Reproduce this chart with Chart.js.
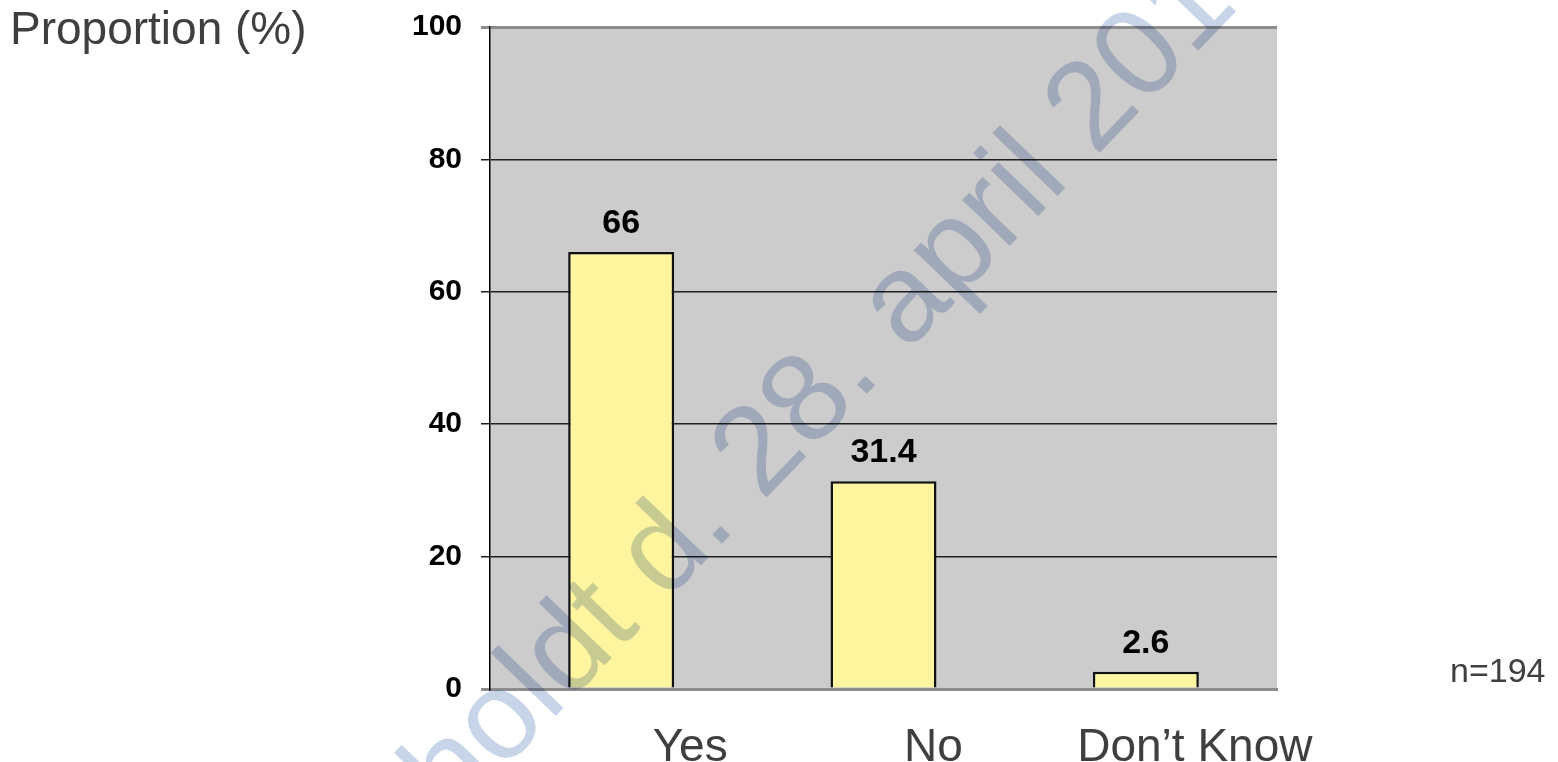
<!DOCTYPE html>
<html>
<head>
<meta charset="utf-8">
<title>Proportion (%)</title>
<script src="https://cdn.jsdelivr.net/npm/chart.js@4.4.1/dist/chart.umd.min.js"></script>
<style>
  html, body { margin: 0; padding: 0; background: #fff; }
  #wrap { position: relative; width: 1558px; height: 762px; }
</style>
</head>
<body>
<div id="wrap"><canvas id="myChart"></canvas></div>
<script>
// answers and their share of respondents
const categories = ['Yes', 'No', 'Don\u2019t Know'];
const proportions = [66, 31.4, 2.6];
const yTickValues = [0, 20, 40, 60, 80, 100];
const axisTitle = 'Proportion (%)';
const sampleNote = 'n=194';
const stampText = 'holdt d. 28. april 2010';

const FONT = '"Liberation Sans", Arial, Helvetica, sans-serif';
const TEXT_GREY = '#3f3f3f';
// the category captions sit a little right of their bars
const captionNudge = [69, 50, 49];

const plotBackground = {
	id: 'plotBackground',
	beforeDraw(chart) {
		const {ctx, chartArea: a} = chart;
		ctx.save();
		ctx.fillStyle = '#cccccc';
		ctx.fillRect(a.left, a.top, a.right - a.left, a.bottom - a.top);
		ctx.restore();
	}
};

const annotations = {
	id: 'annotations',
	afterDatasetsDraw(chart) {
		const {ctx} = chart;
		const meta = chart.getDatasetMeta(0);
		ctx.save();
		ctx.fillStyle = '#000';
		ctx.font = 'bold 34px ' + FONT;
		ctx.textAlign = 'center';
		ctx.textBaseline = 'alphabetic';
		meta.data.forEach((bar, i) => {
			ctx.fillText(String(proportions[i]), bar.x, bar.y - 19);
		});
		ctx.restore();
	},
	afterDraw(chart) {
		const {ctx} = chart;
		const x = chart.scales.x;
		ctx.save();
		ctx.fillStyle = TEXT_GREY;
		ctx.textBaseline = 'alphabetic';

		ctx.font = '46px ' + FONT;
		ctx.textAlign = 'left';
		ctx.fillText(axisTitle, 10, 44);

		ctx.textAlign = 'center';
		categories.forEach((c, i) => {
			ctx.fillText(c, x.getPixelForValue(i) + captionNudge[i], 761);
		});

		ctx.font = '34px ' + FONT;
		ctx.textAlign = 'left';
		ctx.fillText(sampleNote, 1450, 682);
		ctx.restore();

		// diagonal print stamp across the page
		ctx.save();
		ctx.globalCompositeOperation = 'multiply';
		ctx.fillStyle = '#c8d4e8';
		ctx.font = '125px ' + FONT;
		ctx.textAlign = 'left';
		ctx.textBaseline = 'alphabetic';
		const ang = -46 * Math.PI / 180;
		const lead = ctx.measureText('holdt d').width;
		const ox = 714 - lead * Math.cos(ang);
		const oy = 552 - lead * Math.sin(ang);
		ctx.translate(ox, oy);
		ctx.rotate(ang);
		ctx.fillText(stampText, 0, 0);
		ctx.restore();
	}
};

const isEdge = v => v === 0 || v === 100;

var ctx = document.getElementById('myChart').getContext('2d');
const chart = new Chart(ctx, {
	type: 'bar',
	data: {
		labels: categories,
		datasets: [{
			data: proportions,
			backgroundColor: '#fff59f',
			borderColor: '#111111',
			borderWidth: 2.5,
			categoryPercentage: 1,
			barPercentage: 0.404
		}]
	},
	options: {
		responsive: true,
		maintainAspectRatio: false,
		animation: false,
		layout: { padding: { left: 0, top: 27, right: 281, bottom: 0 } },
		plugins: {
			legend: { display: false },
			tooltip: { enabled: false }
		},
		scales: {
			x: {
				grid: { display: false },
				ticks: { display: false },
				border: { display: true, color: '#8c8c8c', width: 3 },
				afterFit(scale) { scale.height = 73; }
			},
			y: {
				min: 0,
				max: 100,
				afterBuildTicks(scale) {
					scale.ticks = yTickValues.map(v => ({ value: v }));
				},
				grid: {
					color: c => isEdge(c.tick && c.tick.value) ? '#8c8c8c' : '#1e1e1e',
					lineWidth: c => isEdge(c.tick && c.tick.value) ? 3 : 1.5,
					tickLength: 9,
					drawTicks: true
				},
				border: { display: true, color: '#000', width: 1.5 },
				ticks: {
					color: '#000',
					padding: 19,
					font: { family: FONT, size: 30, weight: 'bold' }
				},
				afterFit(scale) {
					scale.width = 490;
					scale.paddingTop = 0;
					scale.paddingBottom = 0;
				}
			}
		}
	},
	plugins: [plotBackground, annotations]
});
</script>
</body>
</html>
